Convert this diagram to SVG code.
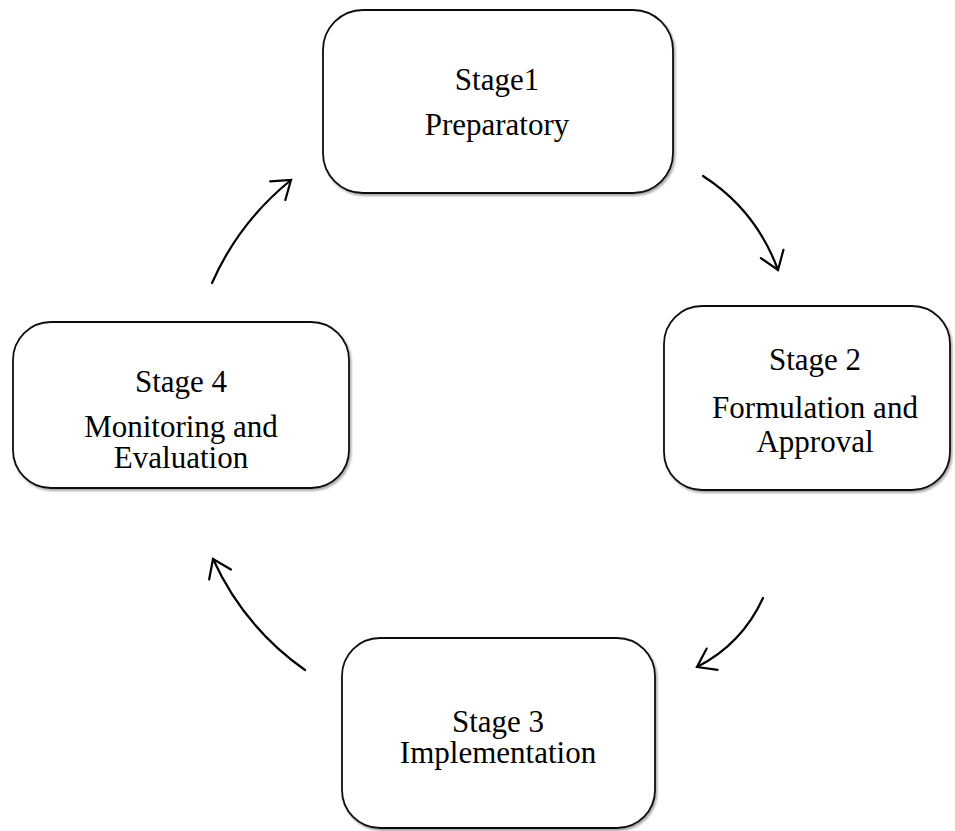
<svg xmlns="http://www.w3.org/2000/svg" width="955" height="831" viewBox="0 0 955 831">
<style>
.box{fill:#fff;stroke:#111;stroke-width:1.8;filter:url(#sh)}
.t{font-family:"Liberation Serif","Times New Roman",serif;font-size:31px;fill:#000;text-anchor:middle}
.c{fill:none;stroke:#000;stroke-width:2.2;stroke-linecap:round;marker-end:url(#ah)}
</style>
<defs>
<filter id="sh" x="-5%" y="-5%" width="112%" height="115%">
<feDropShadow dx="1.5" dy="2" stdDeviation="1.2" flood-color="#000" flood-opacity="0.35"/>
</filter>
<marker id="ah" markerUnits="userSpaceOnUse" markerWidth="30" markerHeight="30" refX="0" refY="0" viewBox="-22 -15 26 30" orient="auto">
<path d="M-17,-12 L0,0 L-17,12" fill="none" stroke="#000" stroke-width="2.2" stroke-linecap="round" stroke-linejoin="miter"/>
</marker>
</defs>
<rect width="955" height="831" fill="#fff"/>
<g id="node1">
<rect class="box" x="323" y="10" width="350" height="183" rx="40"/>
<text class="t" x="497" y="90">Stage1</text>
<text class="t" x="497" y="135">Preparatory</text>
</g>
<g id="node2">
<rect class="box" x="664" y="306" width="286" height="184" rx="38"/>
<text class="t" x="815" y="370">Stage 2</text>
<text class="t" x="815" y="418">Formulation and</text>
<text class="t" x="815" y="452">Approval</text>
</g>
<g id="node3">
<rect class="box" x="342" y="638" width="313" height="190" rx="38"/>
<text class="t" x="498" y="732">Stage 3</text>
<text class="t" x="498" y="763">Implementation</text>
</g>
<g id="node4">
<rect class="box" x="13" y="322" width="336" height="166" rx="38"/>
<text class="t" x="181" y="392">Stage 4</text>
<text class="t" x="181" y="437">Monitoring and</text>
<text class="t" x="181" y="468">Evaluation</text>
</g>
<g id="connectors">
<path class="c" d="M703,176 Q756,210 778,270"/>
<path class="c" d="M763,598 Q742,644 697,667"/>
<path class="c" d="M305,670 Q244,627 213,559"/>
<path class="c" d="M212,283 Q239,222 291,180"/>
</g>
</svg>
